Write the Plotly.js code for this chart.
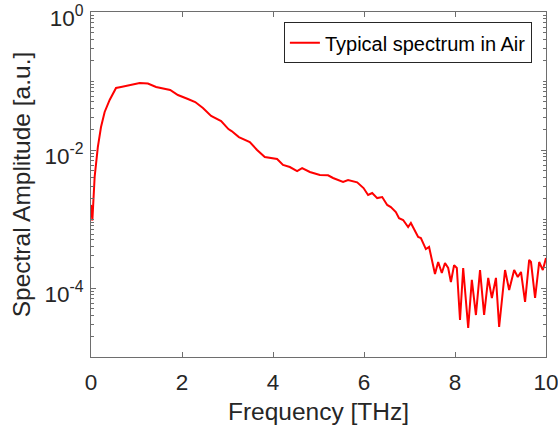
<!DOCTYPE html>
<html>
<head>
<meta charset="utf-8">
<script src="https://cdn.plot.ly/plotly-3.0.1.min.js"></script>
<style>
  html, body { margin: 0; padding: 0; background: #ffffff; }
  #chart { width: 558px; height: 432px; }
</style>
</head>
<body>
<div id="chart"></div>
<script>
// Frequency [THz]
const freq = [
  0.00, 0.03, 0.08, 0.15, 0.22, 0.30, 0.41, 0.55, 0.66, 0.88, 1.07, 1.25, 1.43,
  1.74, 1.91, 2.13, 2.29, 2.46, 2.64, 2.86, 3.02, 3.09, 3.25, 3.49, 3.65, 3.82,
  4.09, 4.22, 4.37, 4.53, 4.64, 4.81, 5.03, 5.21, 5.32, 5.54, 5.65, 5.85, 5.99,
  6.09, 6.18, 6.29, 6.40, 6.51, 6.59, 6.70, 6.77, 6.86, 6.97, 7.03, 7.19, 7.25,
  7.36, 7.43, 7.56, 7.63, 7.71, 7.78, 7.85, 7.91, 7.98, 8.04, 8.11, 8.18, 8.29,
  8.37, 8.46, 8.55, 8.64, 8.73, 8.81, 8.90, 8.97, 9.10, 9.19, 9.30, 9.38, 9.45,
  9.54, 9.63, 9.67, 9.76, 9.85, 9.93, 10.00
];
// Spectral amplitude [a.u.]
const amplitude = [
  1.6e-3, 9.5e-4, 4.06e-3, 1.10e-2, 2.15e-2, 3.56e-2, 5.31e-2, 7.92e-2, 8.18e-2, 8.75e-2, 9.35e-2, 9.2e-2, 8.18e-2,
  7.41e-2, 6.27e-2, 5.49e-2, 4.96e-2, 4.06e-2, 3.11e-2, 2.63e-2, 2.01e-2, 1.88e-2, 1.54e-2, 1.30e-2, 1.0e-2, 7.92e-3,
  7.41e-3, 6.07e-3, 5.67e-3, 4.96e-3, 5.48e-3, 4.80e-3, 4.34e-3, 4.3e-3, 3.93e-3, 3.44e-3, 3.67e-3, 3.4e-3, 2.81e-3,
  2.23e-3, 2.38e-3, 2.01e-3, 2.08e-3, 1.60e-3, 1.49e-3, 1.26e-3, 1.03e-3, 9.68e-4, 7.66e-4, 8.75e-4, 5.48e-4, 5.31e-4,
  3.67e-4, 3.93e-4, 1.60e-4, 2.38e-4, 1.65e-4, 2.30e-4, 1.95e-4, 1.22e-4, 2.15e-4, 1.95e-4, 3.44e-5, 1.95e-4, 2.63e-5,
  1.31e-4, 4.06e-5, 1.82e-4, 4.06e-5, 1.40e-4, 7.16e-5, 1.40e-4, 2.72e-5, 1.82e-4, 9.35e-5, 1.82e-4, 1.44e-4, 1.71e-4,
  6.27e-5, 2.55e-4, 2.38e-4, 7.16e-5, 2.38e-4, 1.82e-4, 2.72e-4
];

const seriesName = "Typical spectrum in Air";
const xTicks = [0, 2, 4, 6, 8, 10];
const yTickVals = [1e-4, 1e-2, 1];
const yTickText = ["10<sup>-4</sup>", "10<sup>-2</sup>", "10<sup>0</sup>"];
const yMinorDecades = [-5, -4, -3, -2, -1];
const yMinorMultipliers = [1, 2, 3, 4, 5, 6, 7, 8, 9];

const yMinorVals = [];
yMinorDecades.forEach(d => yMinorMultipliers.forEach(m => {
  const v = m * Math.pow(10, d);
  if (!yTickVals.some(t => Math.abs(t - v) / t < 1e-9)) yMinorVals.push(v);
}));

const axisColor = "#6e6e6e";
const textColor = "#262626";
const fontFamily = "'Liberation Sans', Arial, Helvetica, sans-serif";

const data = [{
  x: freq,
  y: amplitude,
  type: "scatter",
  mode: "lines",
  name: seriesName,
  line: { color: "#ff0000", width: 2 }
}];

const layout = {
  width: 558,
  height: 432,
  margin: { l: 91, r: 12, t: 12, b: 75 },
  paper_bgcolor: "#ffffff",
  plot_bgcolor: "#ffffff",
  font: { family: fontFamily, color: textColor, size: 22 },
  showlegend: true,
  legend: {
    x: 0.969, y: 0.97, xanchor: "right", yanchor: "top",
    bordercolor: "#262626", borderwidth: 1, bgcolor: "#ffffff",
    font: { family: fontFamily, size: 20, color: "#000000" }
  },
  xaxis: {
    range: [0, 10],
    tickmode: "array",
    tickvals: xTicks,
    ticktext: xTicks.map(String),
    ticks: "inside",
    ticklen: 5,
    tickcolor: axisColor,
    tickwidth: 1,
    showline: true,
    linecolor: axisColor,
    linewidth: 1,
    mirror: "allticks",
    showgrid: false,
    zeroline: false,
    tickfont: { size: 22.5, color: textColor },
    ticklabelstandoff: 5,
    ticklabeloverflow: "allow",
    title: { text: "Frequency [THz]", font: { size: 24.5, color: textColor }, standoff: 8 }
  },
  yaxis: {
    type: "log",
    range: [-5, 0],
    tickmode: "array",
    tickvals: yTickVals,
    ticktext: yTickText,
    ticks: "inside",
    ticklen: 5,
    tickcolor: axisColor,
    tickwidth: 1,
    minor: {
      tickmode: "array",
      tickvals: yMinorVals,
      ticks: "inside",
      ticklen: 3,
      tickcolor: axisColor,
      tickwidth: 1,
      showgrid: false
    },
    showline: true,
    linecolor: axisColor,
    linewidth: 1,
    mirror: "allticks",
    showgrid: false,
    zeroline: false,
    tickfont: { size: 22.5, color: textColor },
    ticklabelstandoff: 2,
    ticklabelshift: 6,
    ticklabeloverflow: "allow",
    title: { text: "Spectral Amplitude [a.u.]", font: { size: 24.5, color: textColor }, standoff: 6 }
  }
};

Plotly.newPlot("chart", data, layout, { displayModeBar: false, staticPlot: true });
</script>
</body>
</html>
